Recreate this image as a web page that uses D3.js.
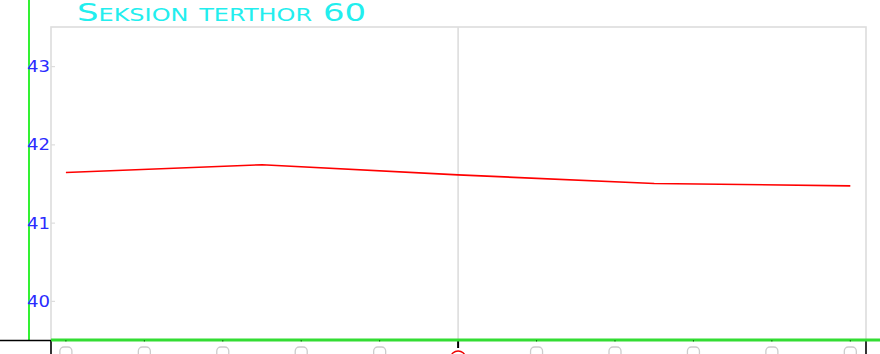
<!DOCTYPE html>
<html>
<head>
<meta charset="utf-8">
<script src="https://cdn.jsdelivr.net/npm/d3@7"></script>
<style>
  html, body { margin: 0; padding: 0; background: #fff; overflow: hidden; }
  svg { display: block; }
  .wide { font-family: "DejaVu Sans", sans-serif; font-variant: small-caps; }
</style>
</head>
<body>
<svg id="chart" width="880" height="354"></svg>
<script>
// Chart content
const titleText = "Seksion terthor 60";
const xSlots = [0, 1, 2, 3, 4, 5, 6, 7, 8, 9, 10];
const highlightSlot = 5;
const seriesX = [0, 2.5, 5, 7.5, 10];
const seriesY = [41.64, 41.74, 41.61, 41.50, 41.47];
const yTicks = [40, 41, 42, 43];
const yDomain = [39.5, 43.5];

const W = 880, H = 354;
const margin = { left: 51, right: 14, top: 27, bottom: 14 };
const svg = d3.select("#chart");

const x = d3.scaleLinear()
  .domain([-0.19, 10.2])
  .range([margin.left, W - margin.right]);
const y = d3.scaleLinear()
  .domain(yDomain)
  .range([H - margin.bottom, margin.top]);

const plotL = margin.left, plotR = W - margin.right;
const plotT = margin.top, plotB = H - margin.bottom;

// plot frame
svg.append("rect")
  .attr("x", plotL).attr("y", plotT)
  .attr("width", plotR - plotL).attr("height", plotB - plotT)
  .attr("fill", "none").attr("stroke", "#dddddd").attr("stroke-width", 1.6);

// centre grid line
svg.append("line")
  .attr("x1", x(highlightSlot)).attr("x2", x(highlightSlot))
  .attr("y1", plotT).attr("y2", plotB)
  .attr("stroke", "#dddddd").attr("stroke-width", 1.6);

// left green rule
svg.append("line")
  .attr("x1", 29).attr("x2", 29).attr("y1", 0).attr("y2", plotB)
  .attr("stroke", "#00ee00").attr("stroke-width", 1.6);

// y axis ticks and labels
const yAxis = d3.axisLeft(y).tickValues(yTicks).tickFormat(d3.format("d")).tickSize(4).tickPadding(2);
const gy = svg.append("g").attr("transform", `translate(${plotL + 4},0)`).call(yAxis);
gy.select(".domain").remove();
gy.selectAll(".tick line").attr("stroke", "#dddddd").attr("stroke-width", 1.2);
gy.selectAll(".tick text")
  .attr("class", "wide")
  .attr("fill", "#2b2bff")
  .attr("font-size", 15)
  .attr("x", -5)
  .attr("dy", "0.36em")
  .attr("textLength", 23)
  .attr("lengthAdjust", "spacingAndGlyphs");

// bottom baseline pieces
svg.append("line")
  .attr("x1", 0).attr("x2", plotL).attr("y1", plotB + 0.5).attr("y2", plotB + 0.5)
  .attr("stroke", "#000").attr("stroke-width", 1.6);
[plotL, plotR].forEach(px => {
  svg.append("line")
    .attr("x1", px).attr("x2", px).attr("y1", plotB).attr("y2", H)
    .attr("stroke", "#000").attr("stroke-width", 1.6);
});

// x axis markers below the axis
svg.append("g").selectAll("rect")
  .data(xSlots.filter(d => d !== highlightSlot))
  .join("rect")
  .attr("x", d => x(d) - 6).attr("y", 347)
  .attr("width", 12).attr("height", 12).attr("rx", 4)
  .attr("fill", "none").attr("stroke", "#cccccc").attr("stroke-width", 1.3);

svg.append("line")
  .attr("x1", x(highlightSlot)).attr("x2", x(highlightSlot))
  .attr("y1", plotB).attr("y2", plotB + 8)
  .attr("stroke", "#000").attr("stroke-width", 2);
svg.append("ellipse")
  .attr("cx", x(highlightSlot)).attr("cy", 357)
  .attr("rx", 7).attr("ry", 6)
  .attr("fill", "none").attr("stroke", "#ee0000").attr("stroke-width", 1.6);

// green x axis line
svg.append("line")
  .attr("x1", plotL).attr("x2", W).attr("y1", plotB).attr("y2", plotB)
  .attr("stroke", "#33dd33").attr("stroke-width", 3);
svg.append("g").selectAll("line")
  .data(xSlots.filter(d => d !== highlightSlot))
  .join("line")
  .attr("x1", d => x(d)).attr("x2", d => x(d))
  .attr("y1", plotB).attr("y2", plotB + 1.5)
  .attr("stroke", "#116611").attr("stroke-width", 1);

// data line
const line = d3.line()
  .x((d, i) => x(seriesX[i]))
  .y(d => y(d));
svg.append("path")
  .datum(seriesY)
  .attr("d", line)
  .attr("fill", "none")
  .attr("stroke", "#ff0000")
  .attr("stroke-width", 1.6);

// title
svg.append("text")
  .attr("class", "wide")
  .attr("x", 77).attr("y", 21)
  .attr("fill", "#22eeee")
  .attr("font-size", 24)
  .attr("textLength", 289)
  .attr("lengthAdjust", "spacingAndGlyphs")
  .text(titleText);
</script>
</body>
</html>
